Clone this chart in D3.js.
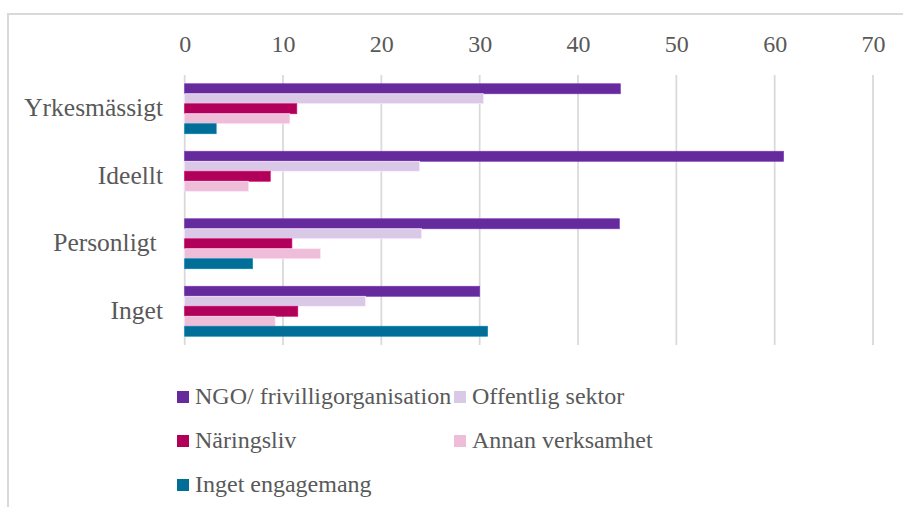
<!DOCTYPE html>
<html>
<head>
<meta charset="utf-8">
<script src="https://cdn.jsdelivr.net/npm/d3@7"></script>
<style>
  body { margin: 0; background: #fff; }
  svg text { font-family: "Liberation Serif", "Times New Roman", serif; fill: #595959; white-space: pre; }
</style>
</head>
<body>
<svg id="chart" width="903" height="507"></svg>
<script>
// categories top to bottom
var categories = ['Yrkesmässigt', 'Ideellt', 'Personligt ', 'Inget'];
var seriesNames = ['NGO/ frivilligorganisation', 'Offentlig sektor', 'Näringsliv', 'Annan verksamhet', 'Inget engagemang'];
var seriesColors = ['#652a9c', '#d9c8e6', '#b0005a', '#eebdd7', '#006e96'];

// one array per series, same order as categories
var ngo        = [44.3, 60.9, 44.2, 30.0];
var offentlig  = [30.4, 23.9, 24.1, 18.4];
var naringsliv = [11.4, 8.7, 10.9, 11.5];
var annan      = [10.7, 6.5, 13.8, 9.2];
var ingetEng   = [3.2, 0, 6.9, 30.8];
var seriesValues = [ngo, offentlig, naringsliv, annan, ingetEng];

var xTicks = [0, 10, 20, 30, 40, 50, 60, 70];

var svg = d3.select('#chart');

// outer chart border (only top and left show in the picture)
svg.append('path')
  .attr('d', 'M8,507 L8,14 L903,14')
  .attr('fill', 'none')
  .attr('stroke', '#d9d9d9')
  .attr('stroke-width', 2);

var x = d3.scaleLinear().domain([0, 70]).range([184.7, 873]);
var y = d3.scaleBand().domain(categories).range([75, 345]).paddingInner(0.26).paddingOuter(0.13);
var ySub = d3.scaleBand().domain(seriesNames).range([0, y.bandwidth()]);

// gridlines
svg.append('g').selectAll('line')
  .data(xTicks)
  .enter().append('line')
  .attr('x1', function(d){ return x(d); })
  .attr('x2', function(d){ return x(d); })
  .attr('y1', 75)
  .attr('y2', 345)
  .attr('stroke', '#d9d9d9')
  .attr('stroke-width', 1.75);

// top axis labels
var xAxis = d3.axisTop(x).tickValues(xTicks).tickSize(0).tickPadding(0);
var gx = svg.append('g').attr('transform', 'translate(0,52)').call(xAxis);
gx.select('.domain').remove();
gx.selectAll('text')
  .attr('font-size', 24)
  .attr('dy', 0)
  .style('font-family', '"Liberation Serif", serif')
  .attr('fill', '#595959');

// category labels
var yAxis = d3.axisLeft(y).tickSize(0).tickPadding(0);
var gy = svg.append('g').attr('transform', 'translate(163,0)').call(yAxis);
gy.select('.domain').remove();
gy.selectAll('text')
  .attr('font-size', 25.5)
  .attr('dy', 7.5)
  .style('font-family', '"Liberation Serif", serif')
  .attr('fill', '#595959');

// bars
var groups = svg.append('g').selectAll('g')
  .data(categories)
  .enter().append('g')
  .attr('transform', function(c){ return 'translate(0,' + y(c) + ')'; });

groups.selectAll('rect')
  .data(function(c, i){
    return seriesNames.map(function(s, j){ return {series: s, value: seriesValues[j][i], color: seriesColors[j]}; });
  })
  .enter().append('rect')
  .filter(function(d){ return d.value > 0; })
  .attr('x', x(0))
  .attr('y', function(d){ return ySub(d.series); })
  .attr('width', function(d){ return x(d.value) - x(0); })
  .attr('height', ySub.bandwidth())
  .attr('fill', function(d){ return d.color; })
  .attr('stroke', function(d){ return d3.color(d.color).brighter(0.5); })
  .attr('stroke-width', 0.7);

// legend, 2 columns
var legendPos = [[177, 404], [454, 404], [177, 448], [454, 448], [177, 492]];
var legend = svg.append('g').selectAll('g')
  .data(seriesNames)
  .enter().append('g')
  .attr('transform', function(d, i){ return 'translate(' + legendPos[i][0] + ',' + legendPos[i][1] + ')'; });

legend.append('rect')
  .attr('x', 0)
  .attr('y', -13)
  .attr('width', 12)
  .attr('height', 12)
  .attr('fill', function(d, i){ return seriesColors[i]; });

legend.append('text')
  .attr('x', 18)
  .attr('y', 0)
  .attr('font-size', 24)
  .text(function(d){ return d; });
</script>
</body>
</html>
